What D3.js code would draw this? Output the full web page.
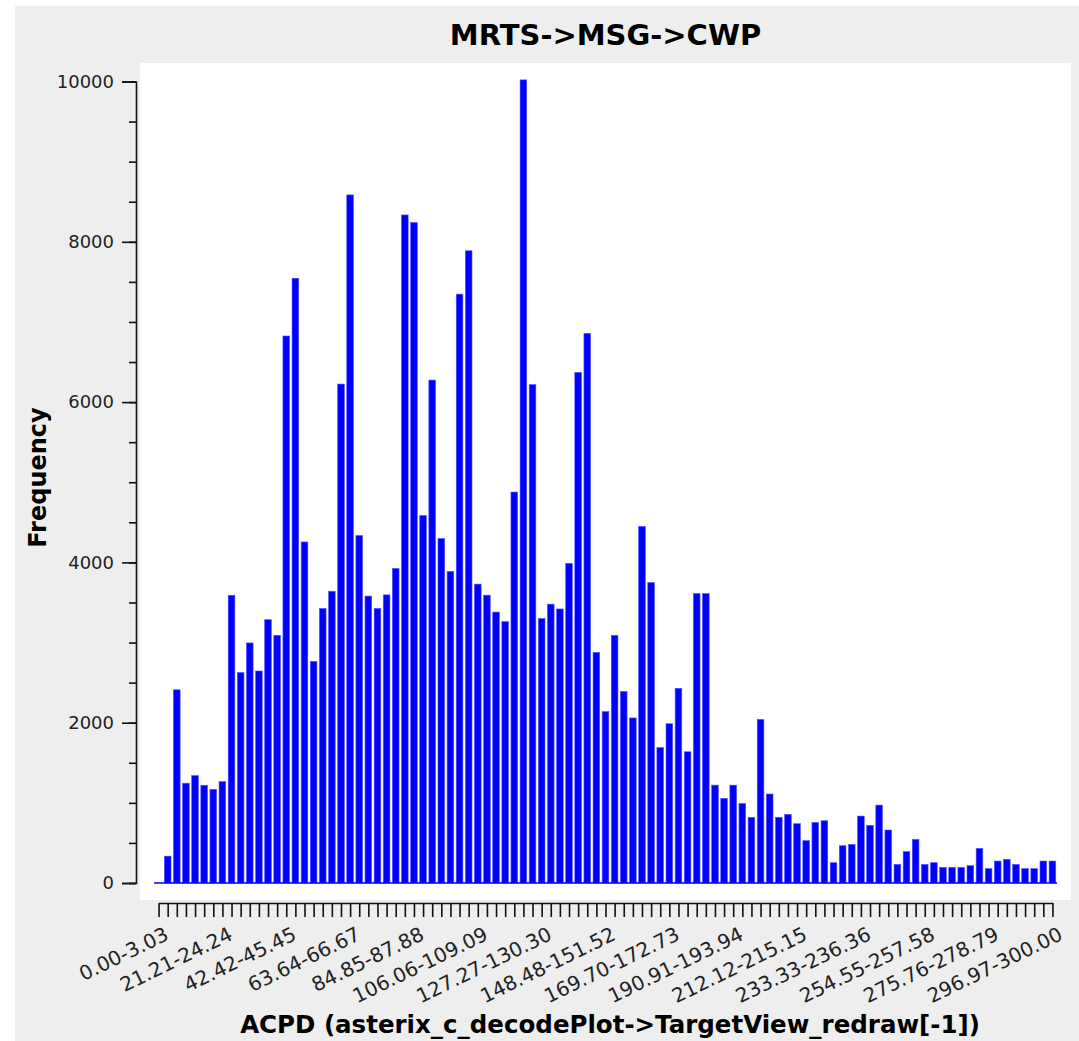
<!DOCTYPE html>
<html>
<head>
<meta charset="utf-8">
<script src="https://cdn.jsdelivr.net/npm/d3@7"></script>
<style>
  body { margin: 0; background: #fff; }
  svg { display: block; font-family: "DejaVu Sans", sans-serif; }
</style>
</head>
<body>
<div id="chart"></div>
<script>
// histogram counts, 99 bins of width 3.03 over 0..300
const counts = [
  0, 335, 2410, 1245, 1340, 1220, 1168, 1265, 3590, 2625,
  2995, 2645, 3285, 3090, 6825, 7545, 4255, 2765, 3425, 3640,
  6225, 8585, 4335, 3580, 3425, 3595, 3925, 8335, 8240, 4585,
  6275, 4297, 3888, 7347, 7888, 3729, 3591, 3380, 3261, 4878,
  10020, 6218, 3300, 3479, 3419, 3987, 6370, 6858, 2878, 2139,
  3089, 2389, 2059, 4449, 3749, 1690, 1987, 2429, 1637, 3611,
  3611, 1221, 1056, 1221, 992, 819, 2041, 1110, 819, 856,
  740, 528, 756, 777, 253, 465, 482, 835, 719, 972,
  661, 232, 391, 544, 232, 253, 195, 195, 195, 216,
  432, 179, 274, 295, 232, 179, 179, 274, 274
];
const tickLabels = [
  "0.00-3.03", "21.21-24.24", "42.42-45.45", "63.64-66.67", "84.85-87.88",
  "106.06-109.09", "127.27-130.30", "148.48-151.52", "169.70-172.73", "190.91-193.94",
  "212.12-215.15", "233.33-236.36", "254.55-257.58", "275.76-278.79", "296.97-300.00"
];
const labelEvery = 7;
const yTicks = [0, 2000, 4000, 6000, 8000, 10000];
const yMinorStep = 500;

const title = "MRTS->MSG->CWP";
const xTitle = "ACPD (asterix_c_decodePlot->TargetView_redraw[-1])";
const yTitle = "Frequency";

const W = 1079, H = 1041;
const plot = {l: 140, t: 63, r: 1071, b: 900};

const svg = d3.select("#chart").append("svg")
  .attr("width", W).attr("height", H);

svg.append("rect").attr("width", W).attr("height", H).attr("fill", "#fff");
svg.append("rect")
  .attr("x", 15).attr("y", 6).attr("width", W - 15).attr("height", H - 6)
  .attr("fill", "#eeeeee");
svg.append("rect")
  .attr("x", plot.l).attr("y", plot.t)
  .attr("width", plot.r - plot.l).attr("height", plot.b - plot.t)
  .attr("fill", "#fff");

const bins = d3.range(counts.length);
const x = d3.scaleBand().domain(bins).range([154, 1057]).paddingInner(0.27).paddingOuter(0.135);
const y = d3.scaleLinear().domain([0, 10000]).range([883, 81.5]);
const bw = x.bandwidth();

// bars
svg.append("g")
  .selectAll("rect")
  .data(counts)
  .join("rect")
  .attr("x", (d, i) => x(i))
  .attr("y", d => y(d))
  .attr("width", bw)
  .attr("height", d => y(0) - y(d))
  .attr("fill", "#0000ff")
  .attr("stroke", "#5050ff")
  .attr("stroke-width", 0.6);

svg.append("line")
  .attr("x1", x.range()[0]).attr("x2", x.range()[1])
  .attr("y1", y(0)).attr("y2", y(0))
  .attr("stroke", "#0000ff").attr("stroke-width", 1.6);

// y axis
const yMinor = svg.append("g")
  .attr("transform", "translate(136,0)")
  .call(d3.axisLeft(y).tickValues(d3.range(0, 10001, yMinorStep)).tickSize(7).tickSizeOuter(0).tickFormat(""));
yMinor.select(".domain").remove();

const yAxis = svg.append("g")
  .attr("transform", "translate(136,0)")
  .call(d3.axisLeft(y).tickValues(yTicks).tickSize(14).tickSizeOuter(14).tickPadding(8).tickFormat(d3.format("d")));
yAxis.selectAll("text").attr("font-size", 18).attr("fill", "#222").attr("font-family", "DejaVu Sans");

svg.selectAll(".tick line, .domain").attr("stroke", "#111").attr("stroke-width", 1.6);

// x axis
const xc = d3.scalePoint().domain(bins).range([x(0) + bw / 2, x(bins.length - 1) + bw / 2]);
const xAxis = svg.append("g")
  .attr("transform", "translate(0,903)")
  .call(d3.axisBottom(xc).tickSize(14).tickSizeOuter(0)
    .tickFormat(i => i % labelEvery === 0 ? tickLabels[i / labelEvery] : ""));
xAxis.selectAll(".tick line, .domain").attr("stroke", "#111").attr("stroke-width", 1.6);
xAxis.selectAll("text")
  .attr("y", 0).attr("dy", 0)
  .attr("text-anchor", "end")
  .attr("font-size", 20)
  .attr("font-family", "DejaVu Sans")
  .attr("fill", "#222")
  .attr("transform", "translate(11,36) rotate(-26)");

// titles
svg.append("text")
  .attr("x", (plot.l + plot.r) / 2).attr("y", 45)
  .attr("text-anchor", "middle")
  .attr("font-size", 29).attr("font-weight", "bold")
  .text(title);

svg.append("text")
  .attr("x", 610).attr("y", 1033)
  .attr("text-anchor", "middle")
  .attr("font-size", 24.5).attr("font-weight", "bold")
  .text(xTitle);

svg.append("text")
  .attr("transform", `translate(46,${(plot.t + plot.b) / 2 - 4}) rotate(-90)`)
  .attr("text-anchor", "middle")
  .attr("font-size", 24).attr("font-weight", "bold")
  .text(yTitle);
</script>
</body>
</html>
